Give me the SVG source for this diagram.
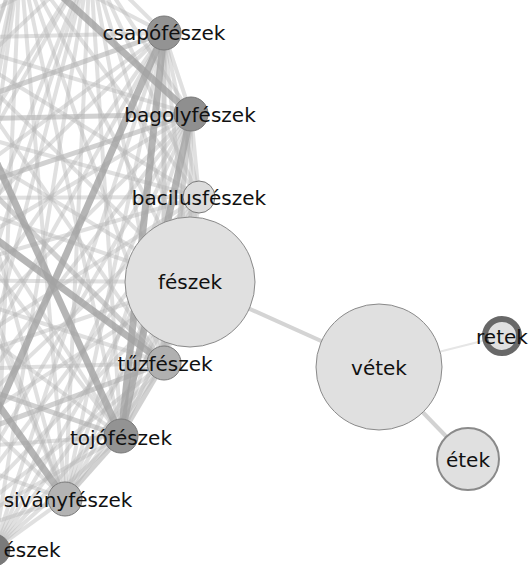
<svg xmlns="http://www.w3.org/2000/svg" width="529" height="565" viewBox="0 0 529 565">
<style>
.l{stroke:#b4b4b4;stroke-width:4;stroke-opacity:.42;fill:none}
.m{stroke:#acacac;stroke-width:5;stroke-opacity:.55;fill:none}
.k{stroke:#a2a2a2;stroke-width:7;stroke-opacity:.8;fill:none}
.n{stroke:#7a7a7a;stroke-width:1}
.t{font-family:"DejaVu Sans",Verdana,sans-serif;font-size:20px;fill:#111;text-anchor:middle}
</style>
<rect width="529" height="565" fill="#fff"/>
<g id="connectors">
<g id="cluster-edges">
<line class="l" x1="164" y1="33" x2="191" y2="114"/>
<line class="l" x1="164" y1="33" x2="199" y2="197"/>
<line class="l" x1="164" y1="33" x2="190" y2="282"/>
<line class="m" x1="164" y1="33" x2="164" y2="363"/>
<line class="l" x1="164" y1="33" x2="65" y2="499"/>
<line class="l" x1="164" y1="33" x2="-6" y2="550"/>
<line class="l" x1="164" y1="33" x2="90" y2="-40"/>
<line class="l" x1="164" y1="33" x2="20" y2="-42"/>
<line class="l" x1="164" y1="33" x2="-60" y2="38"/>
<line class="m" x1="164" y1="33" x2="-80" y2="120"/>
<line class="l" x1="164" y1="33" x2="-60" y2="198"/>
<line class="l" x1="164" y1="33" x2="-90" y2="280"/>
<line class="l" x1="164" y1="33" x2="-70" y2="370"/>
<line class="l" x1="164" y1="33" x2="-70" y2="450"/>
<line class="l" x1="191" y1="114" x2="199" y2="197"/>
<line class="l" x1="191" y1="114" x2="190" y2="282"/>
<line class="m" x1="191" y1="114" x2="164" y2="363"/>
<line class="l" x1="191" y1="114" x2="65" y2="499"/>
<line class="l" x1="191" y1="114" x2="-6" y2="550"/>
<line class="l" x1="191" y1="114" x2="90" y2="-40"/>
<line class="l" x1="191" y1="114" x2="-60" y2="38"/>
<line class="m" x1="191" y1="114" x2="-80" y2="120"/>
<line class="m" x1="191" y1="114" x2="-60" y2="198"/>
<line class="l" x1="191" y1="114" x2="-90" y2="280"/>
<line class="l" x1="191" y1="114" x2="-70" y2="370"/>
<line class="l" x1="191" y1="114" x2="-70" y2="450"/>
<line class="l" x1="191" y1="114" x2="-60" y2="540"/>
<line class="l" x1="199" y1="197" x2="190" y2="282"/>
<line class="l" x1="199" y1="197" x2="164" y2="363"/>
<line class="l" x1="199" y1="197" x2="121" y2="436"/>
<line class="l" x1="199" y1="197" x2="65" y2="499"/>
<line class="l" x1="199" y1="197" x2="-6" y2="550"/>
<line class="l" x1="199" y1="197" x2="90" y2="-40"/>
<line class="l" x1="199" y1="197" x2="20" y2="-42"/>
<line class="l" x1="199" y1="197" x2="-60" y2="38"/>
<line class="l" x1="199" y1="197" x2="-80" y2="120"/>
<line class="l" x1="199" y1="197" x2="-60" y2="198"/>
<line class="l" x1="199" y1="197" x2="-90" y2="280"/>
<line class="l" x1="199" y1="197" x2="-70" y2="370"/>
<line class="l" x1="199" y1="197" x2="-70" y2="450"/>
<line class="l" x1="199" y1="197" x2="-60" y2="540"/>
<line class="l" x1="190" y1="282" x2="164" y2="363"/>
<line class="l" x1="190" y1="282" x2="121" y2="436"/>
<line class="l" x1="190" y1="282" x2="65" y2="499"/>
<line class="l" x1="190" y1="282" x2="-6" y2="550"/>
<line class="l" x1="190" y1="282" x2="90" y2="-40"/>
<line class="l" x1="190" y1="282" x2="20" y2="-42"/>
<line class="l" x1="190" y1="282" x2="-60" y2="38"/>
<line class="l" x1="190" y1="282" x2="-80" y2="120"/>
<line class="l" x1="190" y1="282" x2="-60" y2="198"/>
<line class="l" x1="190" y1="282" x2="-90" y2="280"/>
<line class="l" x1="190" y1="282" x2="-70" y2="370"/>
<line class="l" x1="190" y1="282" x2="-70" y2="450"/>
<line class="l" x1="190" y1="282" x2="-60" y2="540"/>
<line class="m" x1="164" y1="363" x2="121" y2="436"/>
<line class="l" x1="164" y1="363" x2="65" y2="499"/>
<line class="l" x1="164" y1="363" x2="-6" y2="550"/>
<line class="l" x1="164" y1="363" x2="90" y2="-40"/>
<line class="l" x1="164" y1="363" x2="20" y2="-42"/>
<line class="l" x1="164" y1="363" x2="-60" y2="38"/>
<line class="m" x1="164" y1="363" x2="-80" y2="120"/>
<line class="l" x1="164" y1="363" x2="-90" y2="280"/>
<line class="l" x1="164" y1="363" x2="-70" y2="370"/>
<line class="m" x1="164" y1="363" x2="-70" y2="450"/>
<line class="l" x1="164" y1="363" x2="-60" y2="540"/>
<line class="m" x1="121" y1="436" x2="65" y2="499"/>
<line class="l" x1="121" y1="436" x2="-6" y2="550"/>
<line class="l" x1="121" y1="436" x2="90" y2="-40"/>
<line class="l" x1="121" y1="436" x2="20" y2="-42"/>
<line class="l" x1="121" y1="436" x2="-80" y2="120"/>
<line class="l" x1="121" y1="436" x2="-60" y2="198"/>
<line class="l" x1="121" y1="436" x2="-90" y2="280"/>
<line class="m" x1="121" y1="436" x2="-70" y2="370"/>
<line class="l" x1="121" y1="436" x2="-70" y2="450"/>
<line class="l" x1="121" y1="436" x2="-60" y2="540"/>
<line class="l" x1="65" y1="499" x2="-6" y2="550"/>
<line class="l" x1="65" y1="499" x2="90" y2="-40"/>
<line class="l" x1="65" y1="499" x2="20" y2="-42"/>
<line class="l" x1="65" y1="499" x2="-60" y2="38"/>
<line class="l" x1="65" y1="499" x2="-80" y2="120"/>
<line class="l" x1="65" y1="499" x2="-60" y2="198"/>
<line class="l" x1="65" y1="499" x2="-70" y2="370"/>
<line class="l" x1="65" y1="499" x2="-70" y2="450"/>
<line class="l" x1="65" y1="499" x2="-60" y2="540"/>
<line class="l" x1="-6" y1="550" x2="90" y2="-40"/>
<line class="l" x1="-6" y1="550" x2="20" y2="-42"/>
<line class="l" x1="90" y1="-40" x2="-60" y2="38"/>
<line class="l" x1="90" y1="-40" x2="-80" y2="120"/>
<line class="l" x1="90" y1="-40" x2="-60" y2="198"/>
<line class="l" x1="90" y1="-40" x2="-90" y2="280"/>
<line class="l" x1="90" y1="-40" x2="-70" y2="370"/>
<line class="l" x1="90" y1="-40" x2="-70" y2="450"/>
<line class="l" x1="90" y1="-40" x2="-60" y2="540"/>
<line class="l" x1="20" y1="-42" x2="-80" y2="120"/>
<line class="l" x1="20" y1="-42" x2="-60" y2="198"/>
<line class="l" x1="20" y1="-42" x2="-90" y2="280"/>
<line class="l" x1="20" y1="-42" x2="-70" y2="370"/>
<line class="l" x1="20" y1="-42" x2="-70" y2="450"/>
<line class="l" x1="20" y1="-42" x2="-60" y2="540"/>
<line class="k" x1="20" y1="-42" x2="191" y2="114"/>
<line class="k" x1="164" y1="33" x2="-60" y2="540"/>
<line class="k" x1="-60" y1="38" x2="121" y2="436"/>
<line class="k" x1="-60" y1="198" x2="164" y2="363"/>
<line class="k" x1="164" y1="33" x2="121" y2="436"/>
<line class="k" x1="191" y1="114" x2="121" y2="436"/>
<line class="k" x1="-90" y1="280" x2="65" y2="499"/>
</g>
<line id="e-feszek-vetek" x1="190" y1="282" x2="379" y2="367" stroke="#d4d4d4" stroke-width="4"/>
<line id="e-vetek-retek" x1="379" y1="367" x2="502" y2="336" stroke="#e6e6e6" stroke-width="2"/>
<line id="e-vetek-etek" x1="379" y1="367" x2="468" y2="459" stroke="#d2d2d2" stroke-width="4"/>
</g>
<g id="node-csapofeszek"><circle class="n" cx="164" cy="33" r="17" fill="#939393"/><text class="t" x="164" y="40">csapófészek</text></g>
<g id="node-bagolyfeszek"><circle class="n" cx="191" cy="114" r="17" fill="#8f8f8f"/><text class="t" x="190" y="122">bagolyfészek</text></g>
<g id="node-bacilusfeszek"><circle class="n" cx="199" cy="197" r="16" fill="#dcdcdc"/><text class="t" x="199" y="205">bacilusfészek</text></g>
<g id="node-feszek"><circle cx="190" cy="282" r="65" fill="#e0e0e0" stroke="#8a8a8a" stroke-width="1"/><text class="t" x="190" y="289">fészek</text></g>
<g id="node-tuzfeszek"><circle class="n" cx="164" cy="363" r="17" fill="#b0b0b0"/><text class="t" x="165" y="371">tűzfészek</text></g>
<g id="node-tojofeszek"><circle class="n" cx="121" cy="436" r="17" fill="#939393"/><text class="t" x="121" y="445">tojófészek</text></g>
<g id="node-sivanyfeszek"><circle class="n" cx="65" cy="499" r="17" fill="#b3b3b3"/><text class="t" x="68" y="507">siványfészek</text></g>
<g id="node-bottom"><circle class="n" cx="-6" cy="550" r="16" fill="#7a7a7a"/><text class="t" x="32" y="557">észek</text></g>
<g id="node-vetek"><circle cx="379" cy="367" r="63" fill="#e0e0e0" stroke="#8a8a8a" stroke-width="1"/><text class="t" x="379" y="375">vétek</text></g>
<g id="node-retek"><circle cx="502" cy="336" r="17" fill="#e0e0e0" stroke="#686868" stroke-width="6"/><text class="t" x="502" y="344">retek</text></g>
<g id="node-etek"><circle cx="468" cy="459" r="31" fill="#e0e0e0" stroke="#8a8a8a" stroke-width="2"/><text class="t" x="468" y="467">étek</text></g>
</svg>
